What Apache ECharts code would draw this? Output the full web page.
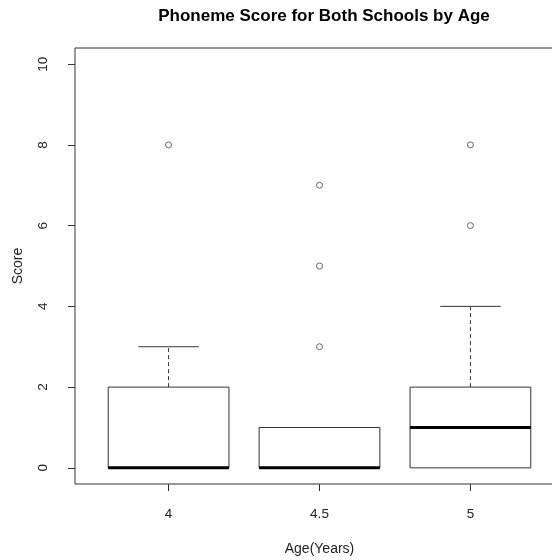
<!DOCTYPE html>
<html><head><meta charset="utf-8">
<script src="https://cdn.jsdelivr.net/npm/echarts@6/dist/echarts.min.js"></script>
<style>html,body{margin:0;padding:0;background:#fff}#c{width:552px;height:560px}</style>
</head><body><div id="c"></div>
<script>
var categories = ['4', '4.5', '5'];
var whiskerLow = [0, 0, 0];
var q1 = [0, 0, 0];
var medians = [0, 0, 1];
var q3 = [2, 1, 2];
var whiskerHigh = [3, 1, 4];
var outlierCat = [0, 1, 1, 1, 2, 2];
var outlierVal = [8, 3, 5, 7, 6, 8];
var yTicks = [0, 2, 4, 6, 8, 10];

var boxData = categories.map(function (c, i) {
  return [i + 1, whiskerLow[i], q1[i], medians[i], q3[i], whiskerHigh[i]];
});
var outData = outlierCat.map(function (c, i) { return [c + 1, outlierVal[i]]; });

var lineCol = '#333';
var font = 'Liberation Sans, Arial';
var chart = echarts.init(document.getElementById('c'));
chart.setOption({
  animation: false,
  title: {
    text: 'Phoneme Score for Both Schools by Age',
    left: 319, top: 3, textAlign: 'center',
    textStyle: { fontFamily: font, fontWeight: 'bold', fontSize: 17, color: '#000' }
  },
  grid: { left: 75, top: 48, width: 489, height: 436, show: true, borderColor: lineCol, borderWidth: 1,
    containLabel: false, outerBoundsMode: 'none' },
  xAxis: {
    type: 'value', min: 0.38, max: 3.62,
    splitLine: { show: false }, axisLine: { show: false, onZero: false },
    axisTick: { show: true, customValues: [1, 2, 3], length: 7, lineStyle: { color: lineCol } },
    axisLabel: { customValues: [1, 2, 3], margin: 23, fontFamily: font, fontSize: 13.5, color: '#222',
      formatter: function (v) { return categories[Math.round(v) - 1]; } },
    name: 'Age(Years)', nameLocation: 'middle', nameGap: 58,
    nameTextStyle: { fontFamily: font, fontSize: 14, color: '#222' }
  },
  yAxis: {
    type: 'value', min: -0.4, max: 10.4,
    splitLine: { show: false }, axisLine: { show: false, onZero: false },
    axisTick: { show: true, customValues: yTicks, length: 7, lineStyle: { color: lineCol } },
    axisLabel: { customValues: yTicks, rotate: 90, margin: 25, fontFamily: font, fontSize: 13.5, color: '#222' },
    name: 'Score', nameLocation: 'middle', nameGap: 50, nameRotate: 90,
    nameTextStyle: { fontFamily: font, fontSize: 14, color: '#222' }
  },
  series: [
    {
      type: 'custom',
      data: boxData,
      clip: false,
      encode: { x: 0, y: [1, 2, 3, 4, 5] },
      renderItem: function (params, api) {
        var x = api.value(0);
        var bw = api.size([0.8, 0])[0];
        var lo = api.coord([x, api.value(1)]);
        var p1 = api.coord([x, api.value(2)]);
        var md = api.coord([x, api.value(3)]);
        var p3 = api.coord([x, api.value(4)]);
        var hi = api.coord([x, api.value(5)]);
        var cx = lo[0];
        var children = [];
        var capHalf = bw / 4;
        if (api.value(5) > api.value(4)) {
          children.push({ type: 'line', shape: { x1: cx, y1: p3[1], x2: cx, y2: hi[1] }, style: { stroke: lineCol, lineWidth: 1, lineDash: [4, 3] } });
          children.push({ type: 'line', shape: { x1: cx - capHalf, y1: hi[1], x2: cx + capHalf, y2: hi[1] }, style: { stroke: lineCol, lineWidth: 1 } });
        }
        if (api.value(1) < api.value(2)) {
          children.push({ type: 'line', shape: { x1: cx, y1: p1[1], x2: cx, y2: lo[1] }, style: { stroke: lineCol, lineWidth: 1, lineDash: [4, 3] } });
          children.push({ type: 'line', shape: { x1: cx - capHalf, y1: lo[1], x2: cx + capHalf, y2: lo[1] }, style: { stroke: lineCol, lineWidth: 1 } });
        }
        children.push({ type: 'rect', shape: { x: cx - bw / 2, y: p3[1], width: bw, height: p1[1] - p3[1] }, style: { fill: '#fff', stroke: lineCol, lineWidth: 1 } });
        children.push({ type: 'line', shape: { x1: cx - bw / 2, y1: md[1], x2: cx + bw / 2, y2: md[1] }, style: { stroke: '#000', lineWidth: 3 } });
        return { type: 'group', children: children };
      }
    },
    {
      type: 'scatter',
      data: outData,
      symbol: 'circle',
      symbolSize: 6,
      itemStyle: { color: '#fff', borderColor: '#444', borderWidth: 1 }
    }
  ]
});
</script></body></html>
